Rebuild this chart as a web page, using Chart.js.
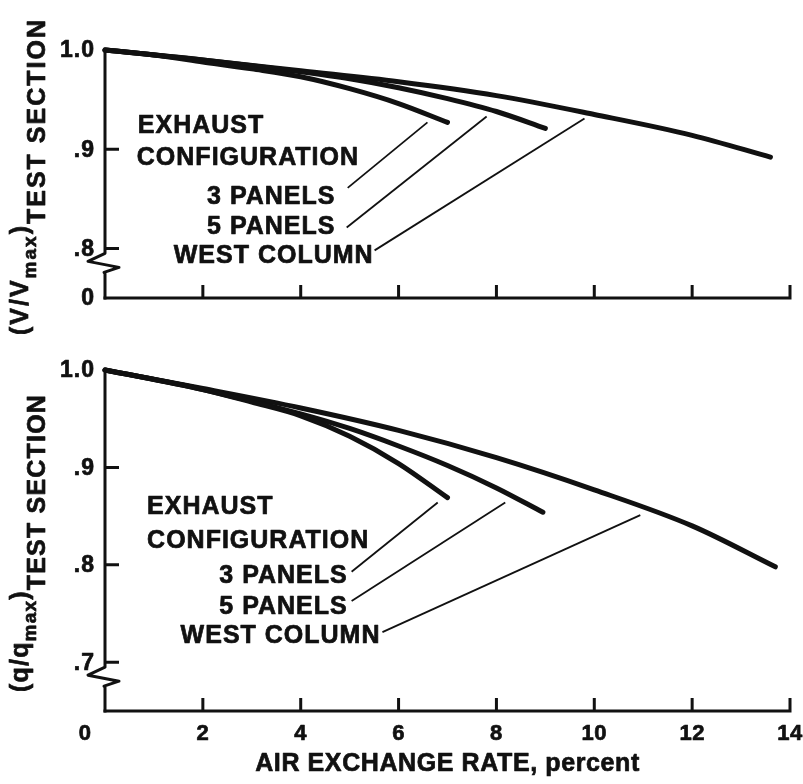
<!DOCTYPE html>
<html><head><meta charset="utf-8">
<script src="https://cdn.jsdelivr.net/npm/chart.js@4.4.1/dist/chart.umd.min.js"></script>
<style>
html,body{margin:0;padding:0;background:#fff;}
#wrap{position:relative;width:803px;height:784px;background:#fff;}
#c1{position:absolute;left:0;top:0;}
#c2{position:absolute;left:0;top:340px;}
</style></head><body>
<div id="wrap">
<canvas id="c1" width="803" height="340"></canvas>
<canvas id="c2" width="803" height="444"></canvas>
</div>
<script>
// ---------------- data ----------------
const xTickValues = [0, 2, 4, 6, 8, 10, 12, 14];
const xTickLabels = ['0', '2', '4', '6', '8', '10', '12', '14'];

// upper panel: (V/Vmax) test section, broken axis ("0" at the axis foot)
const vAxisMin = 0.75;
const vTickValues = [0.75, 0.8, 0.9, 1.0];
const vTickLabels = ['0', '.8', '.9', '1.0'];
// lower panel: (q/qmax) test section (its "0" is shared with the x axis)
const qAxisMin = 0.65;
const qTickValues = [0.7, 0.8, 0.9, 1.0];
const qTickLabels = ['.7', '.8', '.9', '1.0'];

const seriesNames = ['3 PANELS', '5 PANELS', 'WEST COLUMN'];

// V/Vmax curves (air exchange rate, percent -> ratio)
const v3Rate  = [0, 1, 2, 3, 4, 5, 6, 7.0];
const v3Ratio = [1.0, 0.995, 0.988, 0.981, 0.973, 0.961, 0.946, 0.927];
const v5Rate  = [0, 2, 4, 5, 6, 7, 8, 9.0];
const v5Ratio = [1.0, 0.990, 0.978, 0.971, 0.962, 0.951, 0.938, 0.921];
const vWRate  = [0, 2, 4, 6, 8, 10, 12, 13.6];
const vWRatio = [1.0, 0.990, 0.979, 0.968, 0.954, 0.935, 0.914, 0.892];

// q/qmax curves
const q3Rate  = [0, 2, 3, 4, 5, 6, 7.0];
const q3Ratio = [1.0, 0.980, 0.967, 0.953, 0.932, 0.904, 0.869];
const q5Rate  = [0, 2, 4, 5, 6, 7, 8, 8.95];
const q5Ratio = [1.0, 0.980, 0.955, 0.940, 0.922, 0.902, 0.879, 0.854];
const qWRate  = [0, 2, 4, 6, 8, 10, 12, 13.7];
const qWRatio = [1.0, 0.981, 0.961, 0.938, 0.910, 0.877, 0.840, 0.798];

// call-out leader lines (label -> curve end), in data units
const vLead3 = {x: [4.96, 6.59], y: [0.861, 0.927]};
const vLead5 = {x: [4.94, 7.80], y: [0.821, 0.933]};
const vLeadW = {x: [5.51, 9.80], y: [0.798, 0.931]};
const qLead3 = {x: [5.04, 6.80], y: [0.793, 0.864]};
const qLead5 = {x: [5.04, 8.18], y: [0.763, 0.864]};
const qLeadW = {x: [5.67, 10.94], y: [0.731, 0.851]};

// ---------------- drawing ----------------
const INK = '#111';
const FONT = '"Liberation Sans", Arial, Helvetica, sans-serif';

function curve(xs, ys) {
  return {
    data: xs.map((x, i) => ({x: x, y: ys[i]})),
    showLine: true, borderColor: INK, borderWidth: 5, pointRadius: 0,
    cubicInterpolationMode: 'monotone', borderCapStyle: 'round', borderJoinStyle: 'round',
    clip: false, fill: false
  };
}
function leader(l) {
  return {
    data: l.x.map((x, i) => ({x: x, y: l.y[i]})),
    showLine: true, borderColor: INK, borderWidth: 1.8, pointRadius: 0,
    tension: 0, clip: false, fill: false
  };
}

function setFont(ctx, size, spacing) {
  ctx.font = 'bold ' + size + 'px ' + FONT;
  try { ctx.letterSpacing = (spacing || 0) + 'px'; } catch (e) {}
}
function heavyText(ctx, t, x, y) {
  ctx.fillText(t, x, y);
  ctx.strokeText(t, x, y);
}

const decor = {
  id: 'decor',
  beforeDatasetsDraw(chart, args, o) {
    const {ctx, chartArea: a, scales: {x, y}} = chart;
    ctx.save();
    ctx.strokeStyle = INK; ctx.lineWidth = 3; ctx.lineJoin = 'round'; ctx.lineCap = 'butt';
    // x axis line and inward ticks
    const yb = a.bottom;
    ctx.beginPath();
    ctx.moveTo(a.left - 1.5, yb);
    ctx.lineTo(x.getPixelForValue(14) + 1.5, yb);
    for (const v of xTickValues) {
      if (v === 0) continue;
      const px = x.getPixelForValue(v);
      ctx.moveTo(px, yb); ctx.lineTo(px, yb - 13);
    }
    ctx.stroke();
    // y axis with break symbol
    const bY = y.getPixelForValue(o.breakAt);
    const L = a.left;
    ctx.beginPath();
    ctx.moveTo(L, a.top - 1.5);
    ctx.lineTo(L, bY);
    ctx.lineTo(L - 17, bY + 8);
    ctx.lineTo(L + 14, bY + 14);
    ctx.lineTo(L - 1, bY + 19);
    ctx.lineTo(L, bY + 20);
    ctx.lineTo(L, yb + 1.5);
    ctx.stroke();
    ctx.beginPath();
    for (const v of o.yTicks) {
      if (v <= y.min || v >= y.max) continue;
      const py = y.getPixelForValue(v);
      ctx.moveTo(L, py); ctx.lineTo(L + 14, py);
    }
    ctx.stroke();
    ctx.restore();
  },
  afterDraw(chart, args, o) {
    const {ctx, chartArea: a, scales: {x, y}} = chart;
    ctx.save();
    ctx.fillStyle = INK; ctx.strokeStyle = INK; ctx.lineWidth = 0.7; ctx.lineJoin = 'round';
    // y tick labels
    setFont(ctx, 23, 1);
    ctx.textAlign = 'right'; ctx.textBaseline = 'middle';
    o.yTicks.forEach((v, i) => {
      heavyText(ctx, o.yLabels[i], a.left - 10, y.getPixelForValue(v) + 1);
    });
    // x tick labels (lower panel only)
    if (o.xLabels) {
      setFont(ctx, 22, 0.5);
      ctx.textAlign = 'center'; ctx.textBaseline = 'middle';
      xTickValues.forEach((v, i) => {
        let px = x.getPixelForValue(v);
        if (v === 0) px -= 20;
        heavyText(ctx, xTickLabels[i], px, a.bottom + 23);
      });
      setFont(ctx, 25, 0.6);
      ctx.textAlign = 'center'; ctx.textBaseline = 'alphabetic';
      heavyText(ctx, o.xTitle, (a.left + a.right) / 2, a.bottom + 60);
    }
    // annotation labels
    setFont(ctx, 25, 1);
    ctx.textBaseline = 'middle';
    for (const t of o.notes) {
      ctx.textAlign = t[3];
      heavyText(ctx, t[0], x.getPixelForValue(t[1]) + (t[3] === 'right' ? 1 : 0), y.getPixelForValue(t[2]));
    }
    // rotated y title with subscripts
    ctx.translate(o.titleX, o.titleY);
    ctx.rotate(-Math.PI / 2);
    ctx.textAlign = 'left'; ctx.textBaseline = 'alphabetic';
    let pos = 0;
    for (const p of o.titleParts) {
      setFont(ctx, p[1], o.titleSpacing);
      heavyText(ctx, p[0], pos, p[2]);
      pos += ctx.measureText(p[0]).width;
    }
    ctx.restore();
  }
};

new Chart(document.getElementById('c1'), {
  type: 'scatter',
  data: { datasets: [
    curve(v3Rate, v3Ratio), curve(v5Rate, v5Ratio), curve(vWRate, vWRatio),
    leader(vLead3), leader(vLead5), leader(vLeadW)
  ]},
  options: {
    responsive: false, animation: false, events: [],
    layout: { padding: {left: 105, top: 50, right: 13, bottom: 42} },
    scales: {
      x: { type: 'linear', min: 0, max: 14, display: false },
      y: { type: 'linear', min: vAxisMin, max: 1.0, display: false }
    },
    plugins: {
      legend: {display: false}, tooltip: {enabled: false},
      decor: {
        breakAt: 0.795,
        yTicks: vTickValues, yLabels: vTickLabels,
        xLabels: false,
        notes: [
          ['EXHAUST', 0.67, 0.923, 'left'],
          ['CONFIGURATION', 0.65, 0.891, 'left'],
          [seriesNames[0], 4.69, 0.852, 'right'],
          [seriesNames[1], 4.69, 0.821, 'right'],
          [seriesNames[2], 5.47, 0.792, 'right']
        ],
        titleX: 28, titleY: 335, titleSpacing: 2,
        titleParts: [['(V/V', 25, 0], ['max', 19, 8], [')', 25, 0], ['TEST SECTION', 25, 17]]
      }
    }
  },
  plugins: [decor]
});

new Chart(document.getElementById('c2'), {
  type: 'scatter',
  data: { datasets: [
    curve(q3Rate, q3Ratio), curve(q5Rate, q5Ratio), curve(qWRate, qWRatio),
    leader(qLead3), leader(qLead5), leader(qLeadW)
  ]},
  options: {
    responsive: false, animation: false, events: [],
    layout: { padding: {left: 105, top: 30, right: 13, bottom: 73} },
    scales: {
      x: { type: 'linear', min: 0, max: 14, display: false },
      y: { type: 'linear', min: qAxisMin, max: 1.0, display: false }
    },
    plugins: {
      legend: {display: false}, tooltip: {enabled: false},
      decor: {
        breakAt: 0.695,
        yTicks: qTickValues, yLabels: qTickLabels,
        xLabels: true, xTitle: 'AIR EXCHANGE RATE, percent',
        notes: [
          ['EXHAUST', 0.86, 0.859, 'left'],
          ['CONFIGURATION', 0.86, 0.824, 'left'],
          [seriesNames[0], 4.94, 0.788, 'right'],
          [seriesNames[1], 4.94, 0.757, 'right'],
          [seriesNames[2], 5.61, 0.727, 'right']
        ],
        titleX: 28, titleY: 352, titleSpacing: 1.2,
        titleParts: [['(q/q', 25, 0], ['max', 19, 8], [')', 25, 0], ['TEST SECTION', 25, 17]]
      }
    }
  },
  plugins: [decor]
});
</script>
</body></html>
